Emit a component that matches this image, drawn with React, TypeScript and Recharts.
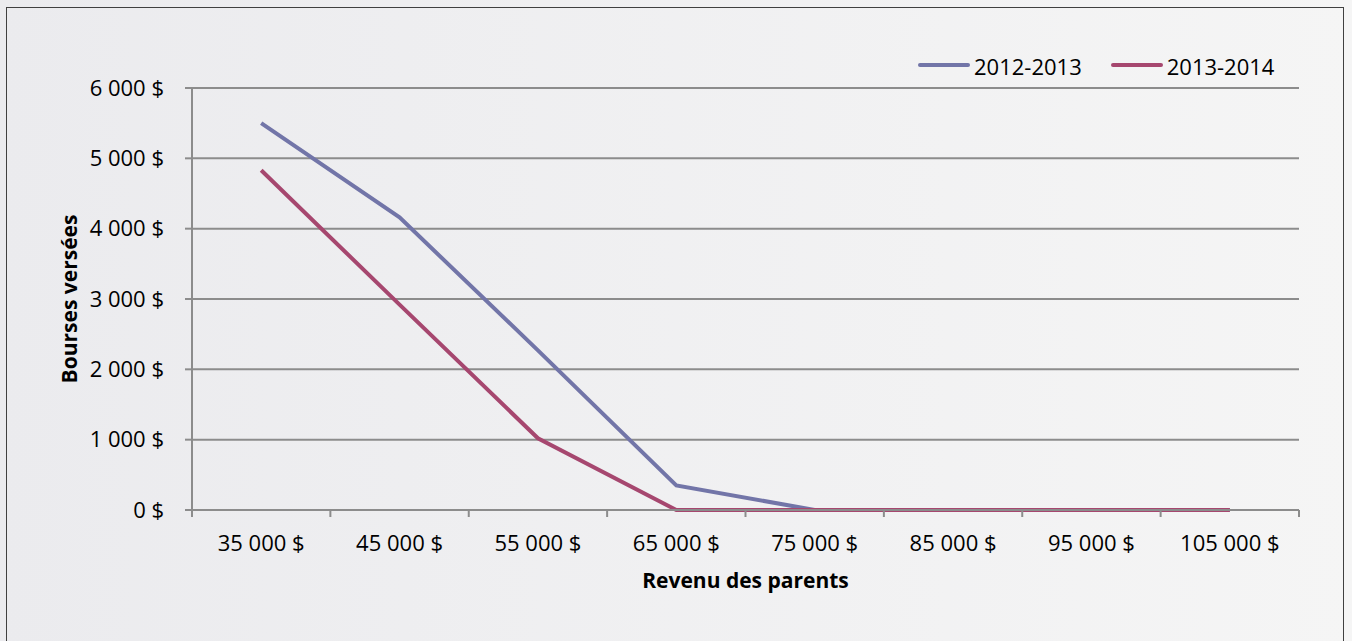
import React from 'react';
import { LineChart, Line, XAxis, YAxis, CartesianGrid, Legend } from 'recharts';

const categories = ['35 000 $', '45 000 $', '55 000 $', '65 000 $', '75 000 $', '85 000 $', '95 000 $', '105 000 $'];
const series2012 = [5500, 4160, 2270, 350, 0, 0, 0, 0];
const series2013 = [4830, 2920, 1020, 0, 0, 0, 0, 0];
const yTicks = [0, 1000, 2000, 3000, 4000, 5000, 6000];

const BLUE = '#7275A8';
const RED = '#A6476F';
const GRID = '#8c8c8c';
const FONT = '"Open Sans", sans-serif';

const data = categories.map((c, i) => ({ x: i + 0.5, label: c, s1: series2012[i], s2: series2013[i] }));
const xTicks = Array.from({ length: categories.length * 2 + 1 }, (_, i) => i / 2);

const fmtY = (v: number) => (v === 0 ? '0 $' : `${v / 1000} 000 $`);

const XTick = (props: any) => {
  const { x, y, payload } = props;
  const v = payload.value;
  if (Number.isInteger(v)) {
    return <line x1={x} x2={x} y1={y} y2={y + 7} stroke={GRID} strokeWidth={2} />;
  }
  const label = categories[Math.floor(v)];
  return (
    <text x={x} y={y + 41} textAnchor="middle" fill="#000" fontSize={22} fontFamily={FONT}>
      {label}
    </text>
  );
};

const LegendContent = (props: any) => {
  const { payload } = props;
  return (
    <div style={{ display: 'flex', alignItems: 'center', height: 30 }}>
      {(payload || []).map((p: any, i: number) => (
        <div key={i} style={{ display: 'flex', alignItems: 'center', marginRight: 29 }}>
          <div style={{ width: 52, height: 4, borderRadius: 2, background: p.color }} />
          <span style={{ marginLeft: 4, fontSize: 22, fontFamily: FONT, color: '#000', lineHeight: '30px', position: 'relative', top: 1 }}>
            {p.value}
          </span>
        </div>
      ))}
    </div>
  );
};

export default function App() {
  return (
    <div
      style={{
        position: 'absolute',
        left: 0,
        top: 0,
        width: 1352,
        height: 641,
        overflow: 'hidden',
        background: 'linear-gradient(90deg, #ebebee 0%, #f5f5f5 100%)',
      }}
    >
      <div
        style={{
          position: 'absolute',
          left: 6,
          top: 7,
          width: 1336,
          height: 700,
          border: '1px solid #404040',
        }}
      />
      <div style={{ position: 'absolute', left: 0, top: 0 }}>
        <LineChart width={1352} height={641} data={data} margin={{ top: 88, right: 53, left: 72, bottom: 41 }}>
          <CartesianGrid vertical={false} stroke={GRID} strokeWidth={2} />
          <XAxis
            dataKey="x"
            type="number"
            domain={[0, categories.length]}
            ticks={xTicks}
            interval={0}
            height={90}
            tickSize={0}
            tickMargin={0}
            tickLine={false}
            axisLine={{ stroke: GRID, strokeWidth: 2 }}
            tick={<XTick />}
            label={{
              content: (p: any) => {
                const vb = p.viewBox || {};
                return (
                  <text
                    x={vb.x + vb.width / 2}
                    y={vb.y + 78}
                    textAnchor="middle"
                    fontWeight="bold"
                    fontSize={21}
                    fontFamily={FONT}
                    fill="#000"
                  >
                    Revenu des parents
                  </text>
                );
              },
            }}
          />
          <YAxis
            type="number"
            domain={[0, 6000]}
            ticks={yTicks}
            interval={0}
            width={120}
            tickSize={7}
            tickMargin={21}
            tickFormatter={fmtY}
            tickLine={{ stroke: GRID, strokeWidth: 2 }}
            axisLine={{ stroke: GRID, strokeWidth: 2 }}
            tick={{ fill: '#000', fontSize: 22, fontFamily: FONT }}
            label={{
              content: (p: any) => {
                const vb = p.viewBox || {};
                const cx = vb.x + 5;
                const cy = vb.y + vb.height / 2;
                return (
                  <text
                    x={cx}
                    y={cy}
                    transform={`rotate(-90, ${cx}, ${cy})`}
                    textAnchor="middle"
                    fontWeight="bold"
                    fontSize={21}
                    fontFamily={FONT}
                    fill="#000"
                  >
                    Bourses versées
                  </text>
                );
              },
            }}
          />
          <Legend
            layout="vertical"
            align="center"
            verticalAlign="middle"
            content={<LegendContent />}
            wrapperStyle={{ left: 918, top: 50, width: 'auto', height: 30 }}
          />
          <Line
            type="linear"
            dataKey="s1"
            name="2012-2013"
            stroke={BLUE}
            strokeWidth={4}
            dot={false}
            isAnimationActive={false}
          />
          <Line
            type="linear"
            dataKey="s2"
            name="2013-2014"
            stroke={RED}
            strokeWidth={4}
            dot={false}
            isAnimationActive={false}
          />
        </LineChart>
      </div>
    </div>
  );
}
